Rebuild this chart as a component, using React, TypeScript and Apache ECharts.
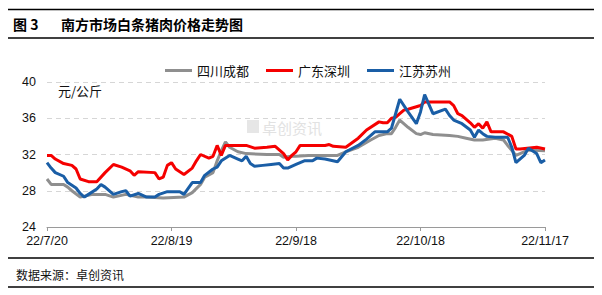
import React, { useEffect, useRef } from "react";
import * as echarts from "echarts";

const title = "图 3";
const subtitle = "南方市场白条猪肉价格走势图";
const source = "数据来源：卓创资讯";
const unit = "元/公斤";
const seriesNames = ["四川成都", "广东深圳", "江苏苏州"];
const xTickDates = ["7/20", "8/19", "9/18", "10/18", "11/17"];
const yTicks = [24, 28, 32, 36, 40];

const sichuan: [string, number][] = [
  ["7/20", 29.3], ["7/21", 28.7], ["7/24", 28.7], ["7/25", 28.4], ["7/26", 28.0], ["7/28", 27.3],
  ["7/31", 27.6], ["8/3", 27.6], ["8/5", 27.3], ["8/8", 27.6], ["8/11", 27.3], ["8/13", 27.3],
  ["8/17", 27.2], ["8/22", 27.3], ["8/24", 27.8], ["8/26", 28.7], ["8/27", 29.5], ["8/29", 30.0],
  ["8/30", 31.3], ["8/31", 32.4], ["9/1", 33.4], ["9/2", 32.8], ["9/4", 32.3], ["9/6", 32.1],
  ["9/11", 32.0], ["9/14", 32.0], ["9/15", 31.7], ["9/17", 31.8], ["9/18", 31.8], ["9/21", 31.9],
  ["9/28", 31.9], ["9/30", 32.3], ["10/3", 32.8], ["10/6", 33.6], ["10/8", 34.1], ["10/10", 34.3],
  ["10/11", 34.3], ["10/12", 35.0], ["10/13", 35.8], ["10/15", 35.0], ["10/17", 34.3], ["10/18", 34.2],
  ["10/19", 34.4], ["10/21", 34.2], ["10/25", 34.1], ["10/27", 34.0], ["10/29", 33.8], ["10/31", 33.6],
  ["11/2", 33.6], ["11/5", 33.8], ["11/7", 33.6], ["11/8", 33.0], ["11/10", 31.9], ["11/11", 32.1],
  ["11/13", 32.5], ["11/17", 32.4],
];

const guangdong: [string, number][] = [
  ["7/20", 31.9], ["7/21", 31.9], ["7/22", 31.5], ["7/24", 31.0], ["7/26", 30.8], ["7/27", 30.4],
  ["7/28", 29.3], ["7/30", 29.0], ["8/1", 29.0], ["8/3", 30.0], ["8/5", 30.9], ["8/7", 30.6],
  ["8/9", 30.2], ["8/10", 29.7], ["8/11", 30.1], ["8/15", 30.0], ["8/16", 29.3], ["8/17", 29.5],
  ["8/18", 30.8], ["8/19", 31.1], ["8/20", 30.4], ["8/22", 29.8], ["8/24", 30.5], ["8/25", 31.3],
  ["8/26", 32.0], ["8/28", 31.6], ["8/29", 31.8], ["8/30", 33.0], ["8/31", 31.9], ["9/1", 33.0],
  ["9/3", 33.0], ["9/6", 33.0], ["9/8", 32.7], ["9/11", 32.8], ["9/13", 32.9], ["9/15", 32.1],
  ["9/16", 31.4], ["9/17", 31.9], ["9/18", 32.3], ["9/19", 33.0], ["9/25", 33.0], ["9/26", 33.1],
  ["9/27", 32.9], ["9/30", 32.8], ["10/3", 33.8], ["10/5", 34.7], ["10/8", 35.6], ["10/9", 35.5],
  ["10/10", 35.5], ["10/11", 36.0], ["10/12", 36.1], ["10/13", 36.5], ["10/14", 36.9], ["10/15", 37.0],
  ["10/18", 37.4], ["10/19", 37.8], ["10/25", 37.8], ["10/26", 37.4], ["10/27", 36.5], ["10/28", 36.3],
  ["10/30", 35.5], ["10/31", 35.0], ["11/1", 35.4], ["11/2", 34.9], ["11/3", 35.6], ["11/4", 34.5],
  ["11/7", 34.5], ["11/9", 34.0], ["11/10", 32.6], ["11/11", 32.6], ["11/15", 32.8], ["11/17", 32.6],
];

const jiangsu: [string, number][] = [
  ["7/20", 31.1], ["7/21", 30.5], ["7/22", 30.0], ["7/24", 29.6], ["7/25", 28.9], ["7/27", 28.3],
  ["7/28", 27.7], ["7/29", 27.3], ["7/30", 27.6], ["8/1", 28.2], ["8/2", 28.7], ["8/3", 28.4],
  ["8/5", 27.6], ["8/7", 27.9], ["8/8", 28.0], ["8/9", 27.4], ["8/11", 27.7], ["8/13", 27.3],
  ["8/15", 27.3], ["8/16", 27.6], ["8/18", 27.9], ["8/21", 27.9], ["8/22", 27.6], ["8/24", 28.9],
  ["8/26", 28.9], ["8/27", 29.7], ["8/29", 30.4], ["8/30", 30.6], ["8/31", 31.3], ["9/2", 31.9],
  ["9/4", 31.5], ["9/5", 31.3], ["9/6", 31.8], ["9/7", 31.0], ["9/8", 30.7], ["9/10", 30.8],
  ["9/12", 30.9], ["9/14", 31.0], ["9/15", 30.5], ["9/16", 30.5], ["9/18", 30.9], ["9/20", 31.3],
  ["9/22", 31.3], ["9/23", 31.6], ["9/25", 31.5], ["9/28", 31.2], ["9/30", 32.3], ["10/3", 33.0],
  ["10/5", 33.7], ["10/7", 34.5], ["10/10", 34.5], ["10/11", 34.9], ["10/12", 36.5], ["10/13", 38.1],
  ["10/15", 36.7], ["10/17", 35.4], ["10/18", 36.7], ["10/19", 38.6], ["10/21", 36.5], ["10/24", 37.0],
  ["10/25", 36.3], ["10/26", 35.8], ["10/28", 35.4], ["10/30", 34.7], ["10/31", 33.9], ["11/1", 34.7],
  ["11/2", 34.3], ["11/3", 34.0], ["11/5", 33.9], ["11/8", 33.9], ["11/9", 32.8], ["11/10", 31.1],
  ["11/12", 31.9], ["11/13", 32.7], ["11/15", 32.1], ["11/16", 31.1], ["11/17", 31.4],
];

const START = Date.UTC(2022, 6, 20);
const DAY = 86400000;
function dayOf(md: string): number {
  const [m, d] = md.split("/").map(Number);
  return (Date.UTC(2022, m - 1, d) - START) / DAY;
}
function toPoints(arr: [string, number][]) {
  return arr.map(([d, v]) => [dayOf(d), v]);
}

const CJK = "'Noto Sans CJK SC', sans-serif";
const NUM = "'Liberation Sans', Arial, sans-serif";

export default function App() {
  const ref = useRef<HTMLDivElement>(null);
  useEffect(() => {
    if (!ref.current) return;
    const chart = echarts.init(ref.current, undefined, { renderer: "svg" });
    const colors = ["#8f8f8f", "#f50000", "#1a5ea6"];
    const datasets = [sichuan, guangdong, jiangsu];
    chart.setOption({
      animation: false,
      color: colors,
      grid: { left: 47, right: 57, top: 82, bottom: 68, containLabel: false },
      legend: {
        data: seriesNames,
        left: 160,
        top: 59,
        icon: "rect",
        itemWidth: 27,
        itemHeight: 3,
        itemGap: 17,
        textStyle: { fontFamily: CJK, fontSize: 13, color: "#111" },
      },
      xAxis: {
        type: "value",
        min: 0,
        max: 120,
        interval: 30,
        axisLine: { show: true, lineStyle: { color: "#9a9a9a", width: 1 } },
        axisTick: { show: true, length: 4, lineStyle: { color: "#9a9a9a" } },
        splitLine: { show: false },
        axisLabel: {
          margin: 7,
          fontFamily: NUM,
          fontSize: 12.5,
          color: "#111",
          showMinLabel: true,
          showMaxLabel: true,
          formatter: (v: number) => {
            const md = xTickDates.find((d) => dayOf(d) === v);
            return md ? "22/" + md : "";
          },
        },
      },
      yAxis: {
        type: "value",
        min: yTicks[0],
        max: yTicks[yTicks.length - 1],
        interval: 4,
        axisLine: { show: false },
        axisTick: { show: false },
        splitLine: { show: true, lineStyle: { color: "#d6d6d6", type: [5, 4], width: 1 } },
        axisLabel: { margin: 11, fontFamily: NUM, fontSize: 12.5, color: "#111" },
      },
      series: seriesNames.map((name, i) => ({
        name,
        type: "line",
        data: toPoints(datasets[i]),
        showSymbol: false,
        symbol: "none",
        lineStyle: { width: 3, color: colors[i] },
        z: 2 + i,
      })),
      graphic: [
        { type: "line", shape: { x1: 8, y1: 9.5, x2: 594, y2: 9.5 }, style: { stroke: "#000", lineWidth: 1.5 } },
        { type: "line", shape: { x1: 8, y1: 38, x2: 594, y2: 38 }, style: { stroke: "#000", lineWidth: 1.5 } },
        { type: "text", x: 13, y: 24, style: { text: title, fontFamily: CJK, fontSize: 14, fontWeight: "bold", fill: "#000", verticalAlign: "middle" } },
        { type: "text", x: 61, y: 24, style: { text: subtitle, fontFamily: CJK, fontSize: 14, fontWeight: "bold", fill: "#000", verticalAlign: "middle" } },
        { type: "text", x: 58, y: 90, style: { text: unit, fontFamily: CJK, fontSize: 13, fill: "#111", verticalAlign: "middle" } },
        { type: "text", x: 262, y: 127, z: 1, style: { text: "卓创资讯", fontFamily: CJK, fontSize: 15, fill: "#e2e2e2", verticalAlign: "middle" } },
        { type: "rect", shape: { x: 247, y: 120, width: 12, height: 13 }, z: 1, style: { fill: "#e6e6e6" } },
        { type: "line", shape: { x1: 8, y1: 258, x2: 594, y2: 258 }, style: { stroke: "#000", lineWidth: 1.5 } },
        { type: "text", x: 16, y: 274, style: { text: source, fontFamily: CJK, fontSize: 12, fill: "#111", verticalAlign: "middle" } },
        { type: "line", shape: { x1: 8, y1: 287, x2: 594, y2: 287 }, style: { stroke: "#000", lineWidth: 1.5 } },
      ],
    });
    return () => chart.dispose();
  }, []);
  return (
    <div
      ref={ref}
      style={{ position: "absolute", left: 0, top: 0, width: 602, height: 295, background: "#fff" }}
    />
  );
}
